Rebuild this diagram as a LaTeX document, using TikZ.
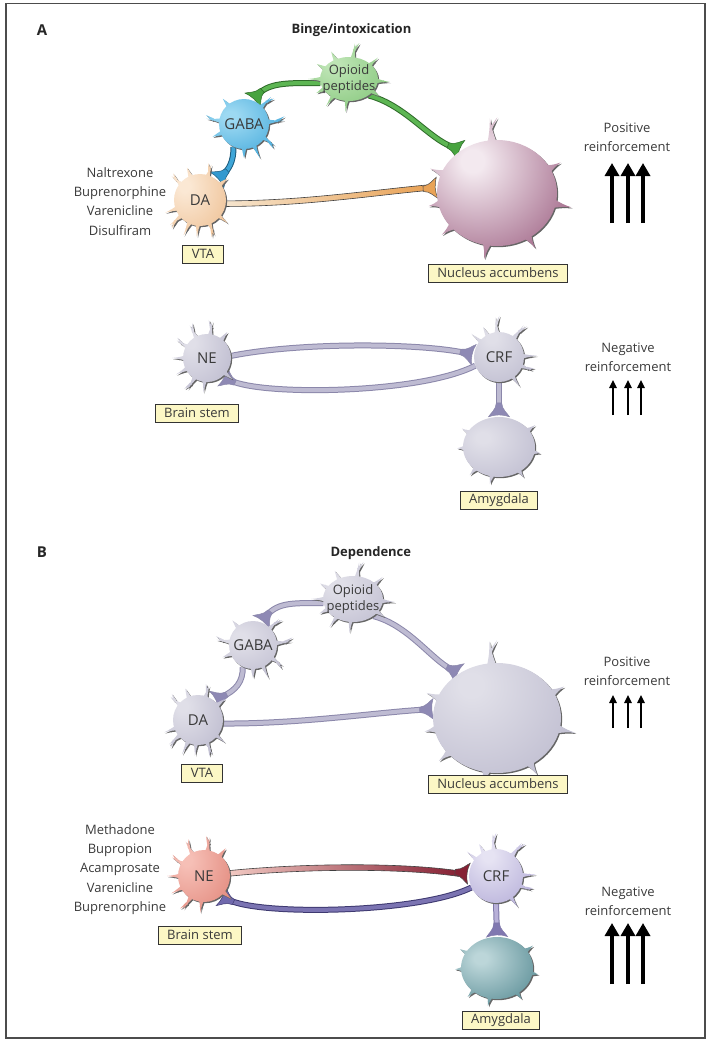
\documentclass[tikz,border=0pt]{standalone}
\usepackage{fontspec}
\setmainfont{Open Sans}
\usetikzlibrary{shapes.geometric,arrows.meta,calc,backgrounds,decorations.markings}

\definecolor{txt}{HTML}{3A3A3A}
\definecolor{labelfill}{HTML}{FCF7C5}
\definecolor{shadowc}{HTML}{666666}
\definecolor{opin}{HTML}{BDE4B4}\definecolor{opout}{HTML}{86C77C}
\definecolor{gabin}{HTML}{9DD9F2}\definecolor{gabout}{HTML}{46ABDC}
\definecolor{dain}{HTML}{FBE8D4}\definecolor{daout}{HTML}{EFC49A}
\definecolor{nacin}{HTML}{F3E9EF}\definecolor{nacout}{HTML}{A36A8A}
\definecolor{gin}{HTML}{E0DFE8}\definecolor{gout}{HTML}{BFBDD0}
\definecolor{nein}{HTML}{F6BFB6}\definecolor{neout}{HTML}{E48E82}
\definecolor{crfin}{HTML}{E6E3F3}\definecolor{crfout}{HTML}{B8B1DA}
\definecolor{amyin}{HTML}{BCD6D9}\definecolor{amyout}{HTML}{5F9199}
\definecolor{orpale}{HTML}{F6E6D0}\definecolor{ordark}{HTML}{E9A256}
\definecolor{redpale}{HTML}{F3CBC4}\definecolor{reddark}{HTML}{862134}
\definecolor{gax}{HTML}{BEBBD2}\definecolor{gaxo}{HTML}{8B87AA}\definecolor{gterm}{HTML}{8E89B4}
\definecolor{grax}{HTML}{5DB653}\definecolor{graxo}{HTML}{2F6B2A}\definecolor{grterm}{HTML}{47A33F}
\definecolor{blax}{HTML}{3FA6D8}\definecolor{blaxo}{HTML}{1D5B7C}\definecolor{blterm}{HTML}{3399CF}
\definecolor{pax}{HTML}{7B74B2}\definecolor{paxo}{HTML}{3E3970}\definecolor{pterm}{HTML}{7069AD}
\definecolor{cax}{HTML}{B8B0D8}\definecolor{caxo}{HTML}{7E77A8}\definecolor{cterm}{HTML}{8078B0}
\colorlet{nin}{gin}\colorlet{nout}{gout}

\pgfdeclareradialshading[nin,nout]{offball}{\pgfpoint{-10bp}{10bp}}{color(0bp)=(nin); color(4bp)=(nin); color(36bp)=(nout); color(100bp)=(nout)}

\def\shw{3}
% body + spikes as one path: x, y, rx, ry, list angle/length/fork
\newcommand\npath[5]{%
 (#1,#2) ellipse ({#3} and {#4})
 \foreach \ang/\len/\frk in {#5}{
   ({#1+(#3-4)*cos(\ang)+\shw*sin(\ang)},{#2+(#4-4)*sin(\ang)-\shw*cos(\ang)})
   .. controls ({#1+(#3-4+0.55*(\len+4))*cos(\ang)+0.25*\shw*sin(\ang)},{#2+(#4-4+0.55*(\len+4))*sin(\ang)-0.25*\shw*cos(\ang)})
   .. ({#1+(#3+\len)*cos(\ang)},{#2+(#4+\len)*sin(\ang)})
   .. controls ({#1+(#3-4+0.55*(\len+4))*cos(\ang)-0.25*\shw*sin(\ang)},{#2+(#4-4+0.55*(\len+4))*sin(\ang)+0.25*\shw*cos(\ang)})
   .. ({#1+(#3-4)*cos(\ang)-\shw*sin(\ang)},{#2+(#4-4)*sin(\ang)+\shw*cos(\ang)}) -- cycle
   ({#1+(#3-4+0.6*(\len+4))*cos(\ang)+1.4*sin(\ang+(\frk))},{#2+(#4-4+0.6*(\len+4))*sin(\ang)-1.4*cos(\ang+(\frk))})
   -- ({#1+(#3-4+0.6*(\len+4))*cos(\ang)+ifthenelse(\frk==0,0,0.5*\len+2)*cos(\ang+(\frk))},{#2+(#4-4+0.6*(\len+4))*sin(\ang)+ifthenelse(\frk==0,0,0.5*\len+2)*sin(\ang+(\frk))})
   -- ({#1+(#3-4+0.6*(\len+4))*cos(\ang)-1.4*sin(\ang+(\frk))},{#2+(#4-4+0.6*(\len+4))*sin(\ang)+1.4*cos(\ang+(\frk))}) -- cycle
 }}

\newcommand\neuron[8]{%
  \fill[shadowc, shift={(1.2,1.2)}] \npath{#2}{#3}{#4}{#5}{#6};
  \colorlet{nin}{#7}\colorlet{nout}{#8}%
  \shade[shading=offball] \npath{#2}{#3}{#4}{#5}{#6};
  \node[nbody, minimum width=2*#4, minimum height=2*#5] (#1) at (#2,#3) {};
}

\newcommand\termshape{(-14,-2.6) .. controls (-7,-3) and (-3,-9) .. (0,-10.5) .. controls (-2.5,-4) and (-2.5,4) .. (0,10.5) .. controls (-3,9) and (-7,3) .. (-14,2.6) -- cycle}

\newcommand\terminal[3]{% path, fill, outline
  \path[decorate, decoration={markings, mark=at position 1 with {\fill[#2, draw=#3, line width=0.5pt] \termshape;}}] #1;
}

\newcommand\axon[4]{%
  \draw[line width=6pt, #3, shorten >=9pt] #1;
  \draw[line width=4pt, #2, shorten >=9pt] #1;
  \terminal{#1}{#4}{#3}
}

\begin{document}
\begin{tikzpicture}[x=1pt,y=-1pt,
  ntext/.style={font=\fontsize{15}{16}\selectfont, text=txt, align=center, inner sep=0pt},
  optext/.style={font=\fontsize{13}{16}\selectfont, text=txt, align=center, inner sep=0pt},
  nbody/.style={ellipse, inner sep=0pt, draw=none},
  lbl/.style={draw=black!80, fill=labelfill, line width=0.8pt, font=\fontsize{13}{15}\selectfont, text=txt, inner xsep=9pt, inner ysep=0pt, minimum height=18pt},
  drugs/.style={font=\fontsize{13}{19.2}\selectfont, text=txt, align=center},
  reinf/.style={font=\fontsize{13}{19}\selectfont, text=txt, align=center},
  title/.style={font=\bfseries\fontsize{13}{15}\selectfont, text=black!85},
  panel/.style={font=\bfseries\fontsize{15}{17}\selectfont, text=black!85},
  bigarrow/.style={line width=4.5pt, -{Triangle[length=13pt,width=14pt]}},
  smallarrow/.style={line width=1.4pt, -{Triangle[length=8pt,width=7.5pt]}},
]
\useasboundingbox (0,0) rectangle (711,1050);
\draw[black!70, line width=1.5pt] (6,3.5) rectangle (705,1038);

% ---------------- Panel A ----------------
\node[panel] (lA) at (42,30) {A};
\node[title, anchor=west] (tA) at (288,30) {Binge/intoxication};

\def\shw{3}
\neuron{OpiA}{349}{79}{29}{22}{180/12/0, -150/8/0, -118/9/0, -82/14/28, -42/10/0, 5/12/0, 35/8/0, 95/11/0, 125/11/0, 152/8/0}{opin}{opout}
\neuron{GABAa}{244}{124}{25}{25}{188/13/25, -130/8/0, -45/13/22, -5/15/-25, 35/12/22, 65/13/0, 90/9/0, 158/9/0}{gabin}{gabout}
\neuron{DAa}{200}{200}{26}{26}{-140/11/25, -112/9/0, -72/11/-28, -38/9/0, 160/11/0, 140/13/-25, 115/13/0, 95/11/0, 68/12/22, 40/10/0}{dain}{daout}
\def\shw{5}
\neuron{NAcA}{497}{193}{60}{53}{-95/22/35, -158/12/0, 168/10/0, 140/12/0, 100/14/0, 58/12/0, 12/16/0, -28/12/0}{nacin}{nacout}
\def\shw{3}
\neuron{NEa}{207}{358}{24}{24}{-150/11/22, -118/13/25, -82/13/-25, -52/9/0, 180/11/0, 152/11/0, 122/13/20, 96/11/0, 40/9/0}{gin}{gout}
\neuron{CRFa}{499}{357}{25}{25}{-95/15/25, -52/15/20, -2/13/0, 22/11/-20, 55/11/0, -140/11/0, -118/9/0}{gin}{gout}
\def\shw{4}
\neuron{AmyA}{499}{447}{36}{30}{-150/7/0, 178/6/0, 132/8/0, 102/8/0, 55/7/0, 10/6/0, -35/8/0}{gin}{gout}

\node[optext] (OpiA-t) at (OpiA) {Opioid\\peptides};
\node[ntext] (GABAa-t) at (GABAa) {GABA};
\node[ntext] (DAa-t) at (DAa) {DA};
\node[ntext] (NEa-t) at (NEa) {NE};
\node[ntext] (CRFa-t) at (CRFa) {CRF};

% ---------------- Panel B ----------------
\node[panel] (lB) at (42,552) {B};
\node[title, anchor=west] (tB) at (327,553) {Dependence};

\def\shw{3}
\neuron{OpiB}{353}{599}{30}{23}{180/12/0, -150/8/0, -118/9/0, -82/14/28, -42/10/0, 5/12/0, 35/8/0, 95/11/0, 125/11/0, 152/8/0}{gin}{gout}
\neuron{GABAb}{253}{645}{24}{24}{188/13/25, -130/8/0, -45/13/22, -5/15/-25, 35/12/22, 65/13/0, 90/9/0, 158/9/0}{gin}{gout}
\neuron{DAb}{198}{720}{25}{25}{-140/11/25, -112/9/0, -72/11/-28, -38/9/0, 160/11/0, 140/13/-25, 115/13/0, 95/11/0, 68/12/22, 40/10/0}{gin}{gout}
\def\shw{5}
\neuron{NAcB}{497}{718}{64}{55}{-95/22/35, -158/12/0, 168/10/0, 140/12/0, 100/14/0, 58/12/0, 12/16/0, -28/12/0}{gin}{gout}
\def\shw{3}
\neuron{NEb}{204}{876}{26}{26}{-150/11/22, -118/13/25, -82/13/-25, -52/9/0, 180/11/0, 152/11/0, 122/13/20, 96/11/0, 40/9/0}{nein}{neout}
\neuron{CRFb}{496}{876}{27}{27}{-95/15/25, -52/15/20, -2/13/0, 22/11/-20, 55/11/0, -140/11/0, -118/9/0}{crfin}{crfout}
\def\shw{4}
\neuron{AmyB}{497}{968}{36}{31}{-150/7/0, 178/6/0, 132/8/0, 102/8/0, 55/7/0, 10/6/0, -35/8/0}{amyin}{amyout}

\node[optext] (OpiB-t) at (OpiB) {Opioid\\peptides};
\node[ntext] (GABAb-t) at (GABAb) {GABA};
\node[ntext] (DAb-t) at (DAb) {DA};
\node[ntext] (NEb-t) at (NEb) {NE};
\node[ntext] (CRFb-t) at (CRFb) {CRF};

% ---------------- Axons ----------------
\begin{scope}[on background layer]
\axon{(OpiA.-40) .. controls (405,105) and (428,138) .. (NAcA.130)}{grax}{graxo}{grterm}
\axon{(OpiA.188) .. controls (292,83) and (270,82) .. (GABAa.70)}{grax}{graxo}{grterm}
\axon{(GABAa.245) .. controls (234,162) and (228,170) .. (DAa.50)}{blax}{blaxo}{blterm}
\shade[left color=orpale, right color=ordark, draw=black!75, line width=0.6pt]
  ($(DAa.-8)+(-4,-2.8)$) .. controls (300,201.2) and (370,190.2) .. ($(NAcA.175)+(-10,-2.8)$)
  -- ($(NAcA.175)+(-10,2.8)$) .. controls (370,195.8) and (300,206.8) .. ($(DAa.-8)+(-4,2.8)$) -- cycle;
\terminal{(DAa.-8) .. controls (300,204) and (370,193) .. (NAcA.175)}{ordark}{black!70}

\axon{(NEa.5) .. controls (300,342) and (420,343) .. (CRFa.175)}{gax}{gaxo}{gterm}
\axon{(CRFa.200) .. controls (420,394) and (262,396) .. (NEa.-50)}{gax}{gaxo}{gterm}
\axon{(CRFa.-90) -- (AmyA.90)}{gax}{gaxo}{gterm}

\axon{(OpiB.-40) .. controls (408,625) and (432,660) .. (NAcB.130)}{gax}{gaxo}{gterm}
\axon{(OpiB.188) .. controls (295,603) and (278,602) .. (GABAb.70)}{gax}{gaxo}{gterm}
\axon{(GABAb.245) .. controls (243,682) and (236,690) .. (DAb.50)}{gax}{gaxo}{gterm}
\axon{(DAb.-8) .. controls (300,724) and (380,712) .. (NAcB.172)}{gax}{gaxo}{gterm}

\shade[left color=redpale, right color=reddark, draw=black!75, line width=0.6pt]
  ($(NEb.5)+(-4,-2.8)$) .. controls (300,863.2) and (400,862.2) .. ($(CRFb.175)+(-10,-2.8)$)
  -- ($(CRFb.175)+(-10,2.8)$) .. controls (400,867.8) and (300,868.8) .. ($(NEb.5)+(-4,2.8)$) -- cycle;
\terminal{(NEb.5) .. controls (300,866) and (400,865) .. (CRFb.175)}{reddark}{black!70}
\axon{(CRFb.205) .. controls (420,913) and (262,916) .. (NEb.-50)}{pax}{paxo}{pterm}
\axon{(CRFb.-90) -- (AmyB.90)}{cax}{caxo}{cterm}
\end{scope}

% ---------------- Labels ----------------
\node[lbl] (vtaA) at (203,254) {VTA};
\node[lbl] (nacA) at (498,273) {Nucleus accumbens};
\node[lbl] (bsA) at (197,413) {Brain stem};
\node[lbl] (amyA) at (499,500) {Amygdala};
\node[lbl] (vtaB) at (202,773) {VTA};
\node[lbl] (nacB) at (498,784) {Nucleus accumbens};
\node[lbl] (bsB) at (200,935) {Brain stem};
\node[lbl] (amyB) at (501,1020) {Amygdala};

\node[drugs] (drA) at (120,201.5) {Naltrexone\\Buprenorphine\\Varenicline\\Disulfiram};
\node[drugs] (drB) at (120,869.6) {Methadone\\Bupropion\\Acamprosate\\Varenicline\\Buprenorphine};

\node[reinf] (posA) at (627,137.5) {Positive\\reinforcement};
\node[reinf] (negA) at (628,357.5) {Negative\\reinforcement};
\node[reinf] (posB) at (627,671.5) {Positive\\reinforcement};
\node[reinf] (negB) at (628,901.5) {Negative\\reinforcement};

% ---------------- Reinforcement arrows ----------------
\foreach \x [count=\i] in {612,628,643}{
  \coordinate (pa\i s) at (\x,223); \coordinate (pa\i e) at (\x,163);
  \draw[bigarrow] (pa\i s) -- (pa\i e);
}
\foreach \x [count=\i] in {613,628,641}{
  \coordinate (na\i s) at (\x,415); \coordinate (na\i e) at (\x,380);
  \draw[smallarrow] (na\i s) -- (na\i e);
}
\foreach \x [count=\i] in {613,628,641}{
  \coordinate (pb\i s) at (\x,728); \coordinate (pb\i e) at (\x,695);
  \draw[smallarrow] (pb\i s) -- (pb\i e);
}
\foreach \x [count=\i] in {612,628,643}{
  \coordinate (nb\i s) at (\x,984); \coordinate (nb\i e) at (\x,923);
  \draw[bigarrow] (nb\i s) -- (nb\i e);
}
\end{tikzpicture}
\end{document}
